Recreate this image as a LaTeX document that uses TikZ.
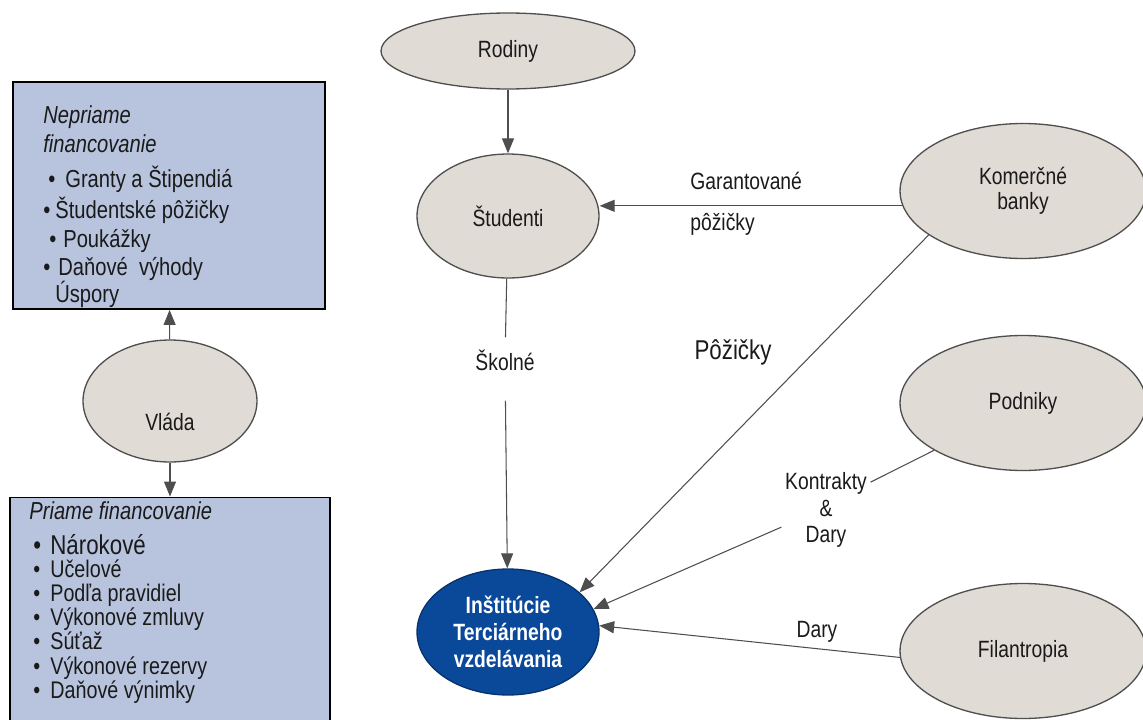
\documentclass[tikz,border=0pt]{standalone}
\usepackage{fontspec}
\setmainfont{Liberation Sans}[FakeStretch=0.82]
\usepackage{xcolor}
\usepackage{tikz}
\usetikzlibrary{shapes.geometric}
\usetikzlibrary{arrows.meta}
\definecolor{boxfill}{HTML}{B8C4DE}
\definecolor{actorfill}{HTML}{E1DBD5}
\definecolor{instblue}{HTML}{0A4899}
\definecolor{wire}{HTML}{4E4E4E}
\definecolor{ink}{HTML}{1A1A1A}
\newcommand{\listbul}[1]{\makebox[#1][l]{•}}

\begin{document}
\begin{tikzpicture}
  [ x=0.02cm, y=-0.02cm,
    actor/.style={ellipse, draw=wire, line width=0.75pt, fill=actorfill,
      text=ink, align=center, inner sep=0pt,
      font=\fontsize{13.4}{14.5}\selectfont},
    side/.style={actor, minimum width=4.92cm, minimum height=2.7cm},
    fbox/.style={rectangle, draw=black, line width=1.1pt, fill=boxfill,
      inner sep=0pt},
    item/.style={anchor=base west, inner sep=0pt, text=ink,
      font=\fontsize{14}{15}\selectfont},
    lbl/.style={text=ink, inner sep=0pt, font=\fontsize{13.4}{14.5}\selectfont},
    ln/.style={draw=wire, line width=0.6pt},
    ld/.style={ln, -{Triangle[length=3mm,width=2.4mm]}}
  ]
  \useasboundingbox (0,0) rectangle (1143,720);
  \clip (0,0) rectangle (1143,720);

  % financing boxes
  \node (nepriame) at (169,195.5) [fbox, minimum width=6.24cm, minimum height=4.54cm] {};
  \node (priame)   at (170,620)   [fbox, minimum width=6.4cm,  minimum height=4.9cm]  {};

  \node (np0) at (43,123) [item, font=\itshape\fontsize{14}{15}\selectfont] {Nepriame};
  \node (np1) at (43,152) [item, font=\itshape\fontsize{14}{15}\selectfont] {financovanie};
  \foreach \px/\py/\txt [count=\i from 2] in
    {48/187/{\listbul{0.34cm}Granty a Štipendiá},
     43/218/{\listbul{0.24cm}Študentské pôžičky},
     49/247/{\listbul{0.28cm}Poukážky},
     43/275/{\listbul{0.30cm}Daňové\ \ výhody},
     55/302/{Úspory}}
    \node (np\i) at (\px,\py) [item] {\txt};

  \node (pr0) at (29,519) [item, font=\itshape\fontsize{14}{15}\selectfont] {Priame financovanie};
  \node (pr1) at (33,554) [item, font=\fontsize{15.5}{16}\selectfont] {\listbul{0.34cm}Nárokové};
  \foreach \py/\txt [count=\i from 2] in
    {577/Učelové, 601/Podľa pravidiel, 625/Výkonové zmluvy,
     649/Súťaž, 674/Výkonové rezervy, 698/Daňové výnimky}
    \node (pr\i) at (33,\py) [item, font=\fontsize{13.7}{14}\selectfont] {\listbul{0.34cm}\txt};

  % actors
  \node (vlada) at (170,401) [actor, minimum width=3.48cm, minimum height=2.44cm,
    text height=1.2cm, text depth=0pt] {Vláda};
  \node (rodiny) at (508,51) [actor, minimum width=5.08cm, minimum height=1.52cm] {Rodiny};
  \node (studenti) at (508,216) [actor, minimum width=3.64cm, minimum height=2.48cm] {Študenti};
  \node (institucie) at (508,632) [actor, fill=instblue, draw=instblue!70!black,
    text=white, font=\bfseries\fontsize{13.4}{15.3}\selectfont,
    minimum width=3.64cm, minimum height=2.52cm] {Inštitúcie\\Terciárneho\\vzdelávania};
  \node (komercne)    at (1023,191) [side] {Komerčné\\banky};
  \node (podniky)     at (1023,403) [side] {Podniky};
  \node (filantropia) at (1023,651) [side] {Filantropia};

  % flow labels
  \node (garant)    at (690,204) [lbl, anchor=west, align=left] {Garantované\\[9pt]pôžičky};
  \node (pozicky)   at (733,352) [lbl, font=\fontsize{15.5}{16}\selectfont] {Pôžičky};
  \node (skolne)    at (505,360) [lbl] {Školné};
  \node (kontrakty) at (826,510) [lbl, inner sep=2pt, align=center,
    font=\fontsize{13.4}{15.3}\selectfont] {Kontrakty\\\&\\Dary};
  \node (dary)      at (817,632) [lbl] {Dary};

  % flows
  \draw [ld] (vlada) -- (nepriame);
  \draw [ld] (vlada) -- (priame);
  \draw [ld] (rodiny) -- (studenti);
  \draw [ld] (komercne.187) -- (komercne.187 -| studenti.east);
  \draw [ln, shorten >=0.24cm] (studenti) -- (skolne);
  \draw [ld, shorten <=0.6cm] (skolne) -- (institucie);
  \draw [ld] (komercne.205) -- (institucie.29);
  \draw [ln] (podniky.208) -- (kontrakty.32);
  \draw [ld] (kontrakty.201) -- (institucie.15);
  \draw [ld] (filantropia.183) -- (institucie.4);
\end{tikzpicture}
\end{document}
